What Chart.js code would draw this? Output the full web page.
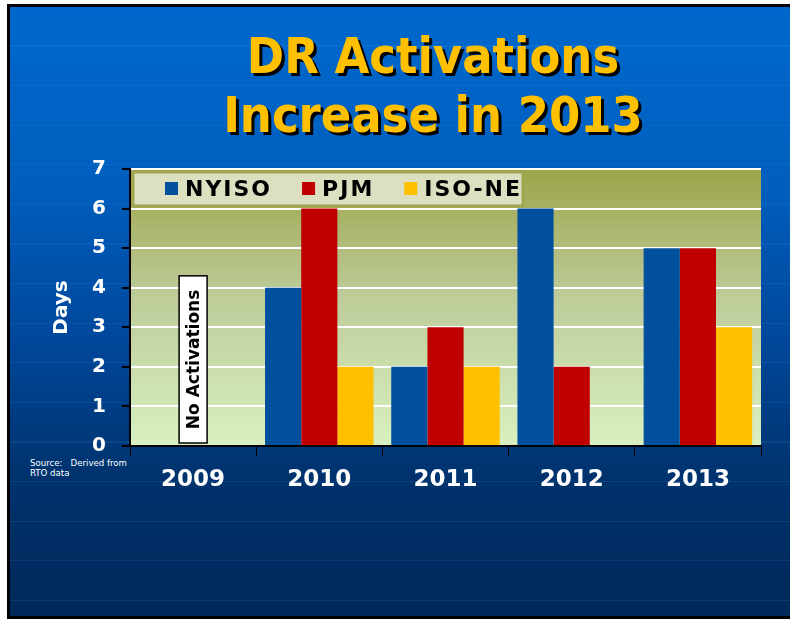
<!DOCTYPE html>
<html>
<head>
<meta charset="utf-8">
<script src="https://cdn.jsdelivr.net/npm/chart.js@4.4.1/dist/chart.umd.min.js"></script>
<style>
  html, body { margin: 0; padding: 0; background: #fff; overflow: hidden; width: 790px; height: 619px; }
  #slide {
    position: absolute; left: 7px; top: 4px; width: 790px; height: 609px;
    border-left: 3px solid #000; border-top: 3px solid #000; border-bottom: 3px solid #000;
    background:
      repeating-linear-gradient(180deg, rgba(0,0,0,0) 0px, rgba(0,0,0,0) 38.5px, rgba(70,150,255,0.14) 38.5px, rgba(70,150,255,0.14) 39.6px),
      linear-gradient(180deg, #0068cc 0%, #005fbf 28%, #00479a 55%, #00326c 78%, #00285a 100%);
  }
  #title {
    position: absolute; left: 0; top: 27px; width: 866px; text-align: center;
    font-family: "DejaVu Sans Condensed", "DejaVu Sans", sans-serif; font-stretch: condensed;
    font-weight: bold; font-size: 50px; line-height: 59px; color: #ffc000;
    text-shadow: 3px 3px 0 #000;
  }
  #source {
    position: absolute; left: 30px; top: 458px;
    font-family: "DejaVu Sans", Verdana, sans-serif; font-size: 8.6px; line-height: 10px; color: #fff;
  }
  #chart { position: absolute; left: 0; top: 0; }
</style>
</head>
<body>
<div id="slide"></div>
<div id="title">DR Activations<br>Increase in 2013</div>
<div id="source">Source:&nbsp;&nbsp; Derived from<br>RTO data</div>
<canvas id="chart" width="790" height="619"></canvas>
<script>
// chart values
var years = ['2009', '2010', '2011', '2012', '2013'];
var nyiso = [null, 4, 2, 6, 5];
var pjm = [null, 6, 3, 2, 5];
var isoNe = [null, 2, 2, 0, 3];
var seriesNames = ['NYISO', 'PJM', 'ISO-NE'];
var seriesColors = ['#00509e', '#c00000', '#ffc000'];
var yMax = 7;
var noActivationsText = 'No Activations';
var noActivationsYear = '2009';
var noActivationsTop = 4.3;

var plotBackground = {
    id: 'plotBackground',
    beforeDraw: function (chart) {
        var a = chart.chartArea, ctx = chart.ctx;
        var g = ctx.createLinearGradient(0, a.top, 0, a.bottom);
        g.addColorStop(0, '#9da449');
        g.addColorStop(0.45, '#bccb98');
        g.addColorStop(1, '#daf0c0');
        ctx.save();
        ctx.fillStyle = g;
        ctx.fillRect(a.left, a.top, a.right - a.left, a.bottom - a.top);
        ctx.restore();
    }
};

var overlays = {
    id: 'overlays',
    afterDatasetsDraw: function (chart) {
        var a = chart.chartArea, ctx = chart.ctx;
        var xs = chart.scales.x, ys = chart.scales.y;
        ctx.save();

        // "No Activations" box
        var cx = xs.getPixelForValue(years.indexOf(noActivationsYear));
        var top = ys.getPixelForValue(noActivationsTop);
        var bottom = ys.getPixelForValue(0) - 3;
        ctx.fillStyle = '#fff';
        ctx.strokeStyle = '#000';
        ctx.lineWidth = 1.5;
        ctx.fillRect(cx - 14, top, 28, bottom - top);
        ctx.strokeRect(cx - 14, top, 28, bottom - top);
        ctx.translate(cx, (top + bottom) / 2);
        ctx.rotate(-Math.PI / 2);
        ctx.fillStyle = '#000';
        ctx.font = 'bold 17px "DejaVu Sans", Verdana, sans-serif';
        ctx.textAlign = 'center';
        ctx.textBaseline = 'middle';
        ctx.fillText(noActivationsText, 0, 1);
        ctx.setTransform(1, 0, 0, 1, 0, 0);

        // legend box inside plot
        var lx = a.left + 3, ly = a.top + 3;
        ctx.fillStyle = '#dcdfc0';
        ctx.strokeStyle = '#a1a550';
        ctx.lineWidth = 3;
        ctx.fillRect(lx, ly, 390, 34);
        ctx.strokeRect(lx, ly, 390, 34);
        ctx.font = 'bold 22px "DejaVu Sans", Verdana, sans-serif';
        ctx.letterSpacing = '2px';
        ctx.textAlign = 'left';
        ctx.textBaseline = 'middle';
        var x = a.left + 35, y = ly + 17;
        chart.data.datasets.forEach(function (ds) {
            ctx.fillStyle = ds.backgroundColor;
            ctx.fillRect(x, y - 7, 13, 13);
            ctx.fillStyle = '#000';
            ctx.fillText(ds.label, x + 20, y + 1);
            x += 20 + ctx.measureText(ds.label).width + 30;
        });
        ctx.restore();
    }
};

var ctx = document.getElementById('chart');

var data = {
    labels: years,
    datasets: [
        { label: seriesNames[0], data: nyiso, backgroundColor: seriesColors[0] },
        { label: seriesNames[1], data: pjm, backgroundColor: seriesColors[1] },
        { label: seriesNames[2], data: isoNe, backgroundColor: seriesColors[2] }
    ]
};

var options = {
    responsive: false,
    animation: false,
    layout: { padding: { left: 46, top: 169, right: 29, bottom: 123 } },
    datasets: { bar: { categoryPercentage: 0.86, barPercentage: 1.0 } },
    plugins: { legend: { display: false }, tooltip: { enabled: false } },
    scales: {
        x: {
            afterFit: function (s) { s.height = 50; },
            grid: { drawOnChartArea: false, tickColor: '#000', tickLength: 10, offset: true },
            border: { color: '#000', width: 2 },
            ticks: {
                color: '#fff', padding: 10,
                font: { family: '"DejaVu Sans", Verdana, sans-serif', size: 23, weight: 'bold' }
            }
        },
        y: {
            min: 0, max: yMax,
            afterFit: function (s) { s.width = 84; },
            grid: { color: '#ffffff', lineWidth: 2, tickColor: '#000', tickLength: 8 },
            border: { color: '#000', width: 2 },
            ticks: {
                stepSize: 1, color: '#fff', padding: 16,
                font: { family: '"DejaVu Sans", Verdana, sans-serif', size: 20, weight: 'bold' }
            },
            title: {
                display: true, text: 'Days', color: '#fff',
                font: { family: '"DejaVu Sans", Verdana, sans-serif', size: 20, weight: 'bold' }
            }
        }
    }
};

new Chart(ctx, {
    type: 'bar',
    data: data,
    options: options,
    plugins: [plotBackground, overlays]
});
</script>
</body>
</html>
